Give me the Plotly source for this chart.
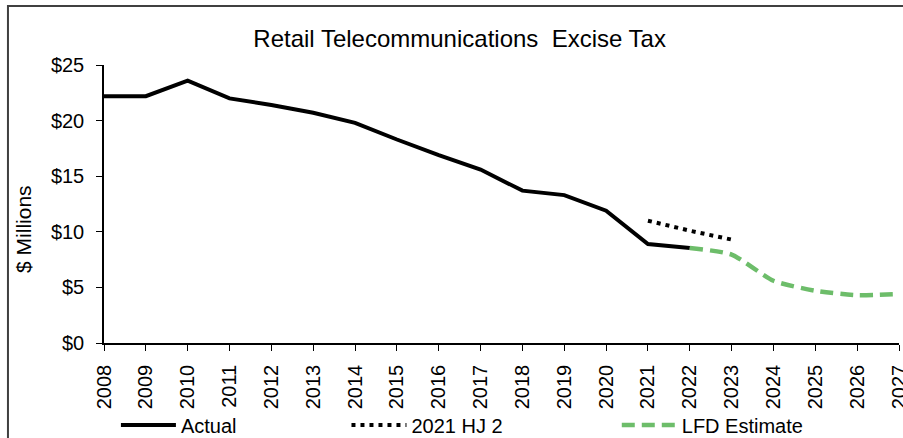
"""Retail Telecommunications Excise Tax"""
import plotly.graph_objects as go

FONT = "Liberation Sans, Arial, sans-serif"

actual_years = list(range(2008, 2023))
actual_vals = [22.2, 22.2, 23.6, 22.0, 21.4, 20.7, 19.8, 18.3, 16.9, 15.6, 13.7, 13.3, 11.9, 8.9, 8.55]

hj2_years = [2021, 2022, 2023]
hj2_vals = [11.0, 10.1, 9.3]

lfd_years = [2022, 2023, 2024, 2025, 2026, 2027]
lfd_vals = [8.55, 7.95, 5.6, 4.7, 4.3, 4.4]

y_ticks = [0, 5, 10, 15, 20, 25]
y_labels = [f"${v}" for v in y_ticks]

fig = go.Figure()
fig.add_trace(go.Scatter(x=actual_years, y=actual_vals, mode="lines", name="Actual",
                         line=dict(color="black", width=4), legend="legend"))
fig.add_trace(go.Scatter(x=hj2_years, y=hj2_vals, mode="lines", name="2021 HJ 2",
                         line=dict(color="black", width=4, dash="4px,5px"), legend="legend2"))
fig.add_trace(go.Scatter(x=lfd_years, y=lfd_vals, mode="lines", name="LFD Estimate",
                         line=dict(color="#6dbd6a", width=4.5, dash="13px,7px", shape="spline", smoothing=0.6),
                         legend="legend3"))

leg = dict(orientation="h", yanchor="middle", xanchor="left", y=-0.295,
           bgcolor="rgba(0,0,0,0)", font=dict(family=FONT, size=20, color="black"),
           itemwidth=55)

fig.update_layout(
    width=903, height=438,
    margin=dict(l=104, r=4, t=65, b=95, autoexpand=False),
    paper_bgcolor="white", plot_bgcolor="white",
    font=dict(family=FONT, size=20, color="black"),
    title=dict(text="Retail Telecommunications  Excise Tax", x=0.509, xanchor="center",
               y=0.913, yanchor="middle", font=dict(family=FONT, size=24, color="black")),
    showlegend=True,
    legend={**leg, "x": 0.015},
    legend2={**leg, "x": 0.305},
    legend3={**leg, "x": 0.645},
    xaxis=dict(range=[2008, 2027], tickmode="linear", tick0=2008, dtick=1, tickangle=-90,
               showgrid=False, zeroline=False, showline=True, linecolor="black", linewidth=1.5,
               ticks="outside", ticklen=6, tickcolor="black", ticklabelstandoff=6,
               ticklabeloverflow="allow",
               tickfont=dict(family=FONT, size=20, color="black")),
    yaxis=dict(range=[0, 25], tickvals=y_ticks, ticktext=y_labels,
               showgrid=False, zeroline=False, showline=True, linecolor="black", linewidth=1.5,
               ticks="outside", ticklen=6, tickcolor="black", ticklabelstandoff=8,
               tickfont=dict(family=FONT, size=20, color="black")),
    annotations=[dict(text="$ Millions", xref="paper", yref="paper", x=-0.102, y=0.41,
                      textangle=-90, showarrow=False, xanchor="center", yanchor="middle",
                      font=dict(family=FONT, size=21, color="black"))],
    shapes=[dict(type="rect", xref="paper", yref="paper", x0=-0.1208, y0=-0.6, x1=1.2, y1=1.2122,
                 line=dict(color="#404040", width=2), fillcolor="rgba(0,0,0,0)", layer="below")],
)

# drop the page margin so the 903x438 figure sits flush in the window
fig.write_html("out.html", config={"displayModeBar": False},
               post_script="document.body.style.margin='0';document.body.style.overflow='hidden';")
